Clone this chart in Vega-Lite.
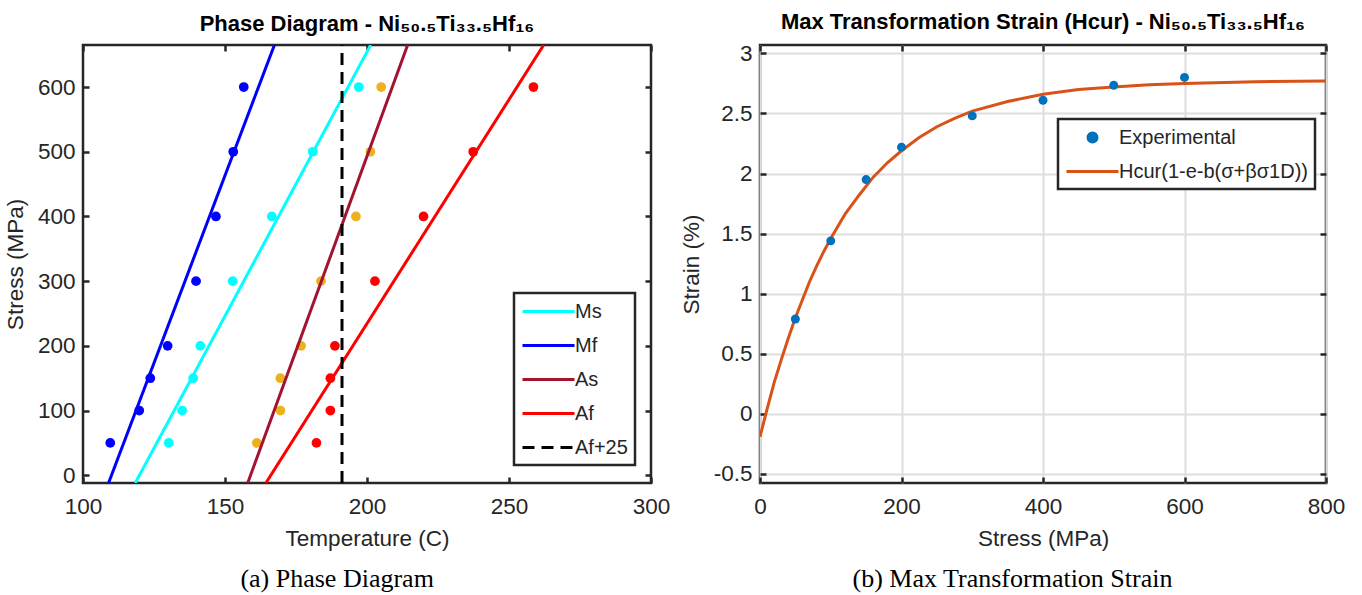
{
  "$schema": "https://vega.github.io/schema/vega-lite/v6.json",
  "background": "white",
  "padding": {"left": 3, "top": 10, "right": 5, "bottom": 0},
  "config": {
    "font": "Liberation Sans",
    "view": {"stroke": "#262626", "strokeWidth": 2.5},
    "axis": {
      "domain": false,
      "labelFont": "Liberation Sans",
      "labelFontSize": 22.5,
      "labelColor": "#262626",
      "labelFlush": false,
      "labelOverlap": false,
      "titleFont": "Liberation Sans",
      "titleFontSize": 22.5,
      "titleFontWeight": "normal",
      "titleColor": "#262626",
      "tickColor": "#262626",
      "tickSize": -6,
      "tickWidth": 2.5,
      "gridColor": "#dedede",
      "gridWidth": 2,
      "gridOpacity": 1
    },
    "axisX": {"labelPadding": 18, "titlePadding": 10},
    "axisY": {"labelPadding": 14, "titlePadding": 10},
    "legend": {
      "labelFont": "Liberation Sans",
      "labelFontSize": 20,
      "labelColor": "#262626",
      "labelLimit": 400,
      "strokeColor": "#262626",
      "strokeWidth": 2.5,
      "fillColor": "white",
      "padding": 7,
      "title": null,
      "orient": "none",
      "symbolSize": 400,
      "symbolStrokeWidth": 3,
      "symbolType": "M-1,0H4.2",
      "labelOffset": 31,
      "rowPadding": 12
    }
  },
  "datasets": {
    "lines": [
      {"series": "Ms", "temp": 118.4, "stress": -12},
      {"series": "Ms", "temp": 201.3, "stress": 665},
      {"series": "Mf", "temp": 109.0, "stress": -12},
      {"series": "Mf", "temp": 167.4, "stress": 665},
      {"series": "As", "temp": 158.0, "stress": -12},
      {"series": "As", "temp": 214.3, "stress": 665},
      {"series": "Af", "temp": 164.4, "stress": -12},
      {"series": "Af", "temp": 262.2, "stress": 665},
      {"series": "Af+25", "temp": 191.2, "stress": -12},
      {"series": "Af+25", "temp": 191.2, "stress": 665}
    ],
    "pts": [
      {"series": "Mf", "stress": 50, "temp": 109.6},
      {"series": "Mf", "stress": 100, "temp": 119.8},
      {"series": "Mf", "stress": 150, "temp": 123.7},
      {"series": "Mf", "stress": 200, "temp": 129.8},
      {"series": "Mf", "stress": 300, "temp": 139.8},
      {"series": "Mf", "stress": 400, "temp": 146.8},
      {"series": "Mf", "stress": 500, "temp": 152.9},
      {"series": "Mf", "stress": 600, "temp": 156.6},
      {"series": "Ms", "stress": 50, "temp": 130.2},
      {"series": "Ms", "stress": 100, "temp": 134.9},
      {"series": "Ms", "stress": 150, "temp": 138.8},
      {"series": "Ms", "stress": 200, "temp": 141.3},
      {"series": "Ms", "stress": 300, "temp": 152.7},
      {"series": "Ms", "stress": 400, "temp": 166.5},
      {"series": "Ms", "stress": 500, "temp": 180.9},
      {"series": "Ms", "stress": 600, "temp": 197.1},
      {"series": "As", "stress": 50, "temp": 161.2},
      {"series": "As", "stress": 100, "temp": 169.5},
      {"series": "As", "stress": 150, "temp": 169.5},
      {"series": "As", "stress": 200, "temp": 176.8},
      {"series": "As", "stress": 300, "temp": 183.8},
      {"series": "As", "stress": 400, "temp": 196.1},
      {"series": "As", "stress": 500, "temp": 201.2},
      {"series": "As", "stress": 600, "temp": 205.0},
      {"series": "Af", "stress": 50, "temp": 182.2},
      {"series": "Af", "stress": 100, "temp": 187.1},
      {"series": "Af", "stress": 150, "temp": 187.1},
      {"series": "Af", "stress": 200, "temp": 188.7},
      {"series": "Af", "stress": 300, "temp": 202.8},
      {"series": "Af", "stress": 400, "temp": 219.9},
      {"series": "Af", "stress": 500, "temp": 237.4},
      {"series": "Af", "stress": 600, "temp": 258.6}
    ],
    "exp": [
      {"series": "Experimental", "stress": 50, "strain": 0.79},
      {"series": "Experimental", "stress": 100, "strain": 1.44},
      {"series": "Experimental", "stress": 150, "strain": 1.95},
      {"series": "Experimental", "stress": 200, "strain": 2.22},
      {"series": "Experimental", "stress": 300, "strain": 2.48},
      {"series": "Experimental", "stress": 400, "strain": 2.61},
      {"series": "Experimental", "stress": 500, "strain": 2.735},
      {"series": "Experimental", "stress": 600, "strain": 2.80}
    ],
    "fit": [
      {"series": "Hcur(1-e-b(σ+βσ1D))", "stress": 0, "strain": -0.19},
      {"series": "Hcur(1-e-b(σ+βσ1D))", "stress": 10, "strain": 0.04},
      {"series": "Hcur(1-e-b(σ+βσ1D))", "stress": 20, "strain": 0.26},
      {"series": "Hcur(1-e-b(σ+βσ1D))", "stress": 30, "strain": 0.45},
      {"series": "Hcur(1-e-b(σ+βσ1D))", "stress": 40, "strain": 0.63},
      {"series": "Hcur(1-e-b(σ+βσ1D))", "stress": 50, "strain": 0.80},
      {"series": "Hcur(1-e-b(σ+βσ1D))", "stress": 60, "strain": 0.95},
      {"series": "Hcur(1-e-b(σ+βσ1D))", "stress": 70, "strain": 1.10},
      {"series": "Hcur(1-e-b(σ+βσ1D))", "stress": 80, "strain": 1.23},
      {"series": "Hcur(1-e-b(σ+βσ1D))", "stress": 90, "strain": 1.35},
      {"series": "Hcur(1-e-b(σ+βσ1D))", "stress": 100, "strain": 1.46},
      {"series": "Hcur(1-e-b(σ+βσ1D))", "stress": 120, "strain": 1.66},
      {"series": "Hcur(1-e-b(σ+βσ1D))", "stress": 140, "strain": 1.82},
      {"series": "Hcur(1-e-b(σ+βσ1D))", "stress": 160, "strain": 1.97},
      {"series": "Hcur(1-e-b(σ+βσ1D))", "stress": 180, "strain": 2.09},
      {"series": "Hcur(1-e-b(σ+βσ1D))", "stress": 200, "strain": 2.19},
      {"series": "Hcur(1-e-b(σ+βσ1D))", "stress": 225, "strain": 2.30},
      {"series": "Hcur(1-e-b(σ+βσ1D))", "stress": 250, "strain": 2.39},
      {"series": "Hcur(1-e-b(σ+βσ1D))", "stress": 275, "strain": 2.46},
      {"series": "Hcur(1-e-b(σ+βσ1D))", "stress": 300, "strain": 2.52},
      {"series": "Hcur(1-e-b(σ+βσ1D))", "stress": 350, "strain": 2.60},
      {"series": "Hcur(1-e-b(σ+βσ1D))", "stress": 400, "strain": 2.66},
      {"series": "Hcur(1-e-b(σ+βσ1D))", "stress": 450, "strain": 2.70},
      {"series": "Hcur(1-e-b(σ+βσ1D))", "stress": 500, "strain": 2.72},
      {"series": "Hcur(1-e-b(σ+βσ1D))", "stress": 550, "strain": 2.74},
      {"series": "Hcur(1-e-b(σ+βσ1D))", "stress": 600, "strain": 2.75},
      {"series": "Hcur(1-e-b(σ+βσ1D))", "stress": 700, "strain": 2.765},
      {"series": "Hcur(1-e-b(σ+βσ1D))", "stress": 800, "strain": 2.771}
    ]
  },
  "spacing": 6,
  "hconcat": [
    {
      "title": {"text": "(a) Phase Diagram", "orient": "bottom", "anchor": "middle", "font": "Liberation Serif", "fontSize": 26, "fontWeight": "normal", "color": "black", "offset": 15},
      "vconcat": [
        {
          "width": 568,
          "height": 438,
          "title": {"text": "Phase Diagram - Ni₅₀.₅Ti₃₃.₅Hf₁₆", "anchor": "middle", "font": "Liberation Sans", "fontSize": 22, "fontWeight": "bold", "color": "black", "offset": 8},
          "resolve": {"axis": {"x": "independent", "y": "independent"}},
          "layer": [
            {
              "data": {"name": "pts"},
              "mark": {"type": "circle", "size": 95, "opacity": 1},
              "encoding": {
                "x": {"field": "temp", "type": "quantitative", "scale": {"domain": [100, 300], "nice": false, "zero": false},
                      "axis": {"orient": "top", "labels": false, "title": null, "grid": false, "values": [100, 150, 200, 250, 300]}},
                "y": {"field": "stress", "type": "quantitative", "scale": {"domain": [-12, 665], "nice": false, "zero": false},
                      "axis": {"orient": "right", "labels": false, "title": null, "grid": false, "values": [0, 100, 200, 300, 400, 500, 600]}},
                "fill": {"field": "series", "type": "nominal", "legend": null,
                          "scale": {"domain": ["Ms", "Mf", "As", "Af"], "range": ["#00FFFF", "#0000FF", "#EDB120", "#FF0000"]}}
              }
            },
            {
              "data": {"name": "lines"},
              "mark": {"type": "line", "strokeWidth": 3, "clip": true},
              "encoding": {
                "x": {"field": "temp", "type": "quantitative", "axis": {"title": "Temperature (C)", "values": [100, 150, 200, 250, 300]}},
                "y": {"field": "stress", "type": "quantitative", "axis": {"title": "Stress (MPa)", "values": [0, 100, 200, 300, 400, 500, 600]}},
                "stroke": {"field": "series", "type": "nominal",
                          "scale": {"domain": ["Ms", "Mf", "As", "Af", "Af+25"], "range": ["#00FFFF", "#0000FF", "#A2142F", "#FF0000", "#000000"]},
                          "legend": {"legendX": 431, "legendY": 248}},
                "strokeDash": {"field": "series", "type": "nominal",
                          "scale": {"domain": ["Ms", "Mf", "As", "Af", "Af+25"], "range": [[1, 0], [1, 0], [1, 0], [1, 0], [12, 7]]},
                          "legend": {"legendX": 431, "legendY": 248}}
              }
            }
          ]
        }
      ]
    },
    {
      "title": {"text": "(b) Max Transformation Strain", "orient": "bottom", "anchor": "middle", "font": "Liberation Serif", "fontSize": 26, "fontWeight": "normal", "color": "black", "offset": 15},
      "vconcat": [
        {
          "width": 566,
          "height": 438,
          "title": {"text": "Max Transformation Strain (Hcur) - Ni₅₀.₅Ti₃₃.₅Hf₁₆", "anchor": "middle", "font": "Liberation Sans", "fontSize": 22, "fontWeight": "bold", "color": "black", "offset": 8},
          "resolve": {"axis": {"x": "independent", "y": "independent"}},
          "layer": [
            {
              "data": {"name": "fit"},
              "mark": {"type": "line", "strokeWidth": 3, "clip": true},
              "encoding": {
                "x": {"field": "stress", "type": "quantitative", "scale": {"domain": [0, 800], "nice": false, "zero": false},
                      "axis": {"title": "Stress (MPa)", "values": [0, 200, 400, 600, 800]}},
                "y": {"field": "strain", "type": "quantitative", "scale": {"domain": [-0.575, 3.07], "nice": false, "zero": false},
                      "axis": {"title": "Strain (%)", "values": [-0.5, 0, 0.5, 1, 1.5, 2, 2.5, 3], "labelExpr": "'' + datum.value"}},
                "color": {"field": "series", "type": "nominal",
                          "scale": {"domain": ["Experimental", "Hcur(1-e-b(σ+βσ1D))"], "range": ["#0072BD", "#D95319"]},
                          "legend": {"legendX": 975, "legendY": 74,
                                     "encode": {"symbols": {"update": {
                                       "shape": {"signal": "datum.value === 'Experimental' ? 'M1.15,0A0.45,0.45,0,1,1,2.05,0A0.45,0.45,0,1,1,1.15,0Z' : 'M-1,0H4.2'"},
                                       "size": {"value": 400},
                                       "fill": {"signal": "datum.value === 'Experimental' ? '#0072BD' : 'transparent'"},
                                       "stroke": {"signal": "datum.value === 'Experimental' ? 'transparent' : '#D95319'"},
                                       "strokeWidth": {"value": 3},
                                       "opacity": {"value": 1}
                                     }}}}}
              }
            },
            {
              "data": {"name": "exp"},
              "mark": {"type": "circle", "size": 80, "opacity": 1},
              "encoding": {
                "x": {"field": "stress", "type": "quantitative",
                      "axis": {"orient": "top", "labels": false, "title": null, "grid": false, "values": [0, 200, 400, 600, 800]}},
                "y": {"field": "strain", "type": "quantitative",
                      "axis": {"orient": "right", "labels": false, "title": null, "grid": false, "values": [-0.5, 0, 0.5, 1, 1.5, 2, 2.5, 3]}},
                "color": {"field": "series", "type": "nominal"}
              }
            }
          ]
        }
      ]
    }
  ]
}
